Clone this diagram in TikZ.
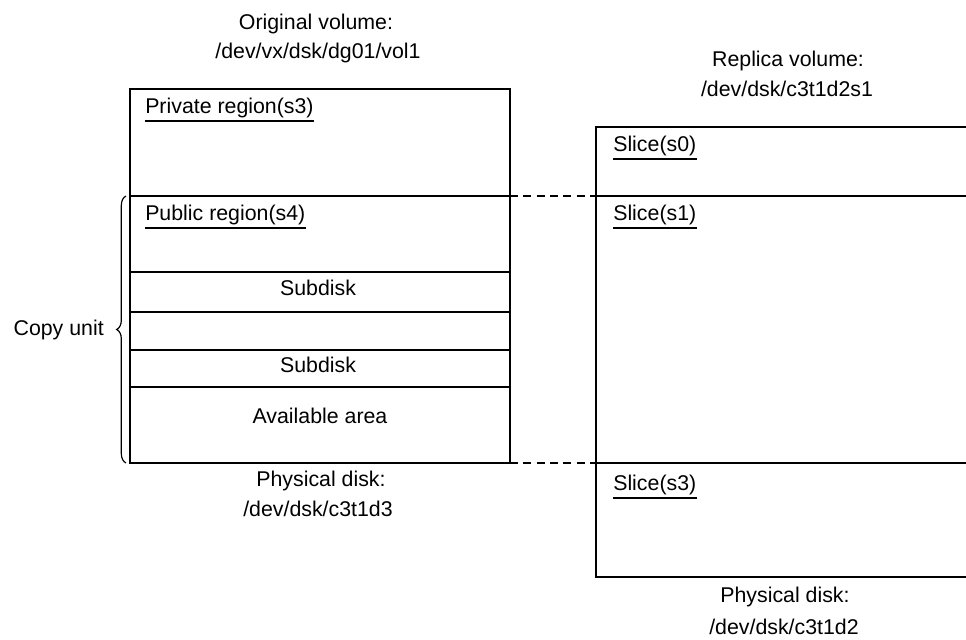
\documentclass[tikz,border=0pt]{standalone}
\usepackage{fontspec}
\setmainfont{Liberation Sans}
\usetikzlibrary{decorations.pathreplacing}
\begin{document}
\begin{tikzpicture}[x=0.75pt,y=-0.75pt,
  line/.style={line width=1pt, black},
  dashline/.style={line width=1pt, dash pattern=on 6pt off 4pt},
  txt/.style={inner sep=0pt, font=\fontsize{16}{18}\selectfont},
  ltxt/.style={txt, anchor=base west},
  ctxt/.style={txt, anchor=base},
  uline/.style={line width=0.9pt}]
\useasboundingbox (0,0) rectangle (966,639);
% Left box
\draw[line] (130,89) rectangle (510,463);
\draw[line] (130,196) -- (515,196);
\foreach \y in {272,312,350,387} \draw[line] (130,\y) -- (510,\y);
% Right box (cut at right edge)
\draw[line] (970,127) -- (596,127) -- (596,577) -- (970,577);
\draw[line] (596,196) -- (970,196);
\draw[line] (596,463) -- (970,463);
% Dashed connectors
\coordinate (la) at (510,196); \coordinate (ra) at (596,196);
\coordinate (lb) at (510,463); \coordinate (rb) at (596,463);
\draw[dashline] (la) -- (ra);
\draw[dashline] (lb) -- (rb);
% Brace
\draw[line width=0.9pt, decorate, decoration={brace, amplitude=7pt}] (126,463) -- (126,196);
\node[txt, anchor=base east] (cu) at (104,335) {Copy unit};
% Titles
\node[ctxt] (ov1) at (316,29) {Original volume:};
\node[ctxt] (ov2) at (318,58) {/dev/vx/dsk/dg01/vol1};
\node[ctxt] (rv1) at (788,66) {Replica volume:};
\node[ctxt] (rv2) at (787,96) {/dev/dsk/c3t1d2s1};
\node[ctxt] (pd1) at (321,486) {Physical disk:};
\node[ctxt] (pd2) at (318,516) {/dev/dsk/c3t1d3};
\node[ctxt] (pd3) at (785,602) {Physical disk:};
\node[ctxt] (pd4) at (784,634) {/dev/dsk/c3t1d2};
% Region labels
\node[ltxt] (pr) at (145,113) {Private region(s3)};
\node[ltxt] (pu) at (145,220) {Public region(s4)};
\node[ctxt] (sd1) at (318,295) {Subdisk};
\node[ctxt] (sd2) at (318,372) {Subdisk};
\node[ctxt] (av) at (320,423) {Available area};
\node[ltxt] (s0) at (613,151) {Slice(s0)};
\node[ltxt] (s1) at (613,220) {Slice(s1)};
\node[ltxt] (s3) at (613,490) {Slice(s3)};
\foreach \n in {pr,pu,s0,s1,s3}
  \draw[uline] ([yshift=-6pt]\n.base west) -- ([yshift=-6pt]\n.base east);
\end{tikzpicture}
\end{document}
